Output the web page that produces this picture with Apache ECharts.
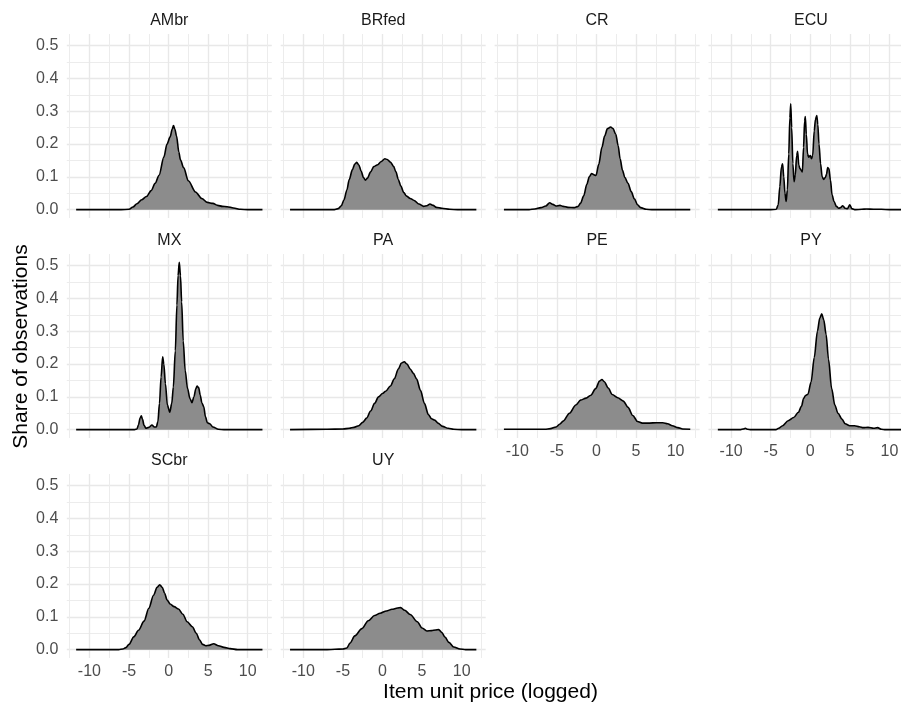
<!DOCTYPE html>
<html>
<head>
<meta charset="utf-8">
<script src="https://cdn.jsdelivr.net/npm/echarts@6/dist/echarts.min.js"></script>
<style>
html,body{margin:0;padding:0;background:#ffffff;}
#chart{width:901px;height:706px;}
</style>
</head>
<body>
<div id="chart"></div>
<script>
// ---- Data ----
const panels = ['AMbr','BRfed','CR','ECU','MX','PA','PE','PY','SCbr','UY'];
const xTitle = 'Item unit price (logged)';
const yTitle = 'Share of observations';

const AMbr = [[-11.68,0],[-6,0],[-5,0.001],[-4.5,0.008],[-4,0.018],[-3.4,0.03],[-2.8,0.04],[-2.2,0.058],[-1.7,0.08],[-1.2,0.105],[-0.6,0.16],[-0.2,0.2],[0.2,0.222],[0.45,0.245],[0.62,0.256],[0.8,0.245],[1.0,0.225],[1.3,0.175],[1.5,0.152],[1.9,0.128],[2.5,0.088],[3.4,0.054],[4.2,0.034],[4.9,0.022],[5.6,0.019],[6.2,0.013],[6.8,0.01],[7.4,0.009],[8.2,0.005],[9.1,0.001],[10,0],[11.86,0]];
const BRfed = [[-11.68,0],[-6.2,0],[-5.6,0.003],[-5.2,0.012],[-4.86,0.03],[-4.5,0.06],[-4.2,0.092],[-3.8,0.122],[-3.5,0.139],[-3.25,0.144],[-3.0,0.137],[-2.7,0.118],[-2.4,0.098],[-2.15,0.09],[-1.9,0.096],[-1.5,0.115],[-1.1,0.131],[-0.6,0.137],[-0.2,0.146],[0.3,0.155],[0.6,0.153],[1.0,0.145],[1.4,0.132],[1.7,0.115],[2.0,0.092],[2.3,0.073],[2.7,0.052],[3.0,0.042],[3.5,0.034],[4.0,0.028],[4.6,0.017],[5.2,0.01],[5.6,0.012],[6.0,0.017],[6.4,0.013],[6.8,0.007],[7.5,0.004],[8.5,0.001],[9.5,0],[11.86,0]];
const CR = [[-11.68,0],[-8.5,0],[-7.8,0.002],[-7.0,0.006],[-6.4,0.011],[-5.9,0.021],[-5.5,0.016],[-5.1,0.011],[-4.6,0.013],[-4.2,0.01],[-3.6,0.007],[-2.8,0.006],[-2.3,0.01],[-2.0,0.02],[-1.6,0.042],[-1.2,0.078],[-0.9,0.1],[-0.6,0.11],[-0.3,0.106],[-0.05,0.104],[0.3,0.138],[0.7,0.19],[1.05,0.225],[1.4,0.247],[1.8,0.252],[2.1,0.247],[2.45,0.23],[2.75,0.195],[3.0,0.155],[3.3,0.12],[3.6,0.098],[4.0,0.08],[4.4,0.055],[4.8,0.033],[5.2,0.015],[5.6,0.006],[6.3,0.001],[7,0],[11.86,0]];
const ECU = [[-11.68,0],[-5,0],[-4.3,0.001],[-4.05,0.015],[-3.85,0.07],[-3.65,0.13],[-3.5,0.14],[-3.35,0.1],[-3.2,0.05],[-3.05,0.025],[-2.9,0.06],[-2.72,0.17],[-2.58,0.28],[-2.47,0.323],[-2.35,0.25],[-2.2,0.14],[-2.05,0.085],[-1.9,0.105],[-1.72,0.165],[-1.6,0.178],[-1.45,0.135],[-1.3,0.125],[-1.15,0.12],[-1.0,0.115],[-0.85,0.19],[-0.72,0.27],[-0.63,0.284],[-0.5,0.23],[-0.35,0.17],[-0.2,0.16],[0,0.165],[0.15,0.155],[0.3,0.165],[0.5,0.24],[0.65,0.275],[0.82,0.287],[0.95,0.26],[1.1,0.2],[1.3,0.14],[1.5,0.1],[1.7,0.092],[1.9,0.098],[2.05,0.108],[2.2,0.128],[2.35,0.125],[2.55,0.09],[2.75,0.045],[3.0,0.025],[3.3,0.01],[3.6,0.004],[3.8,0.006],[4.1,0.012],[4.4,0.004],[4.7,0.003],[5.0,0.015],[5.25,0.003],[5.7,0],[6.5,0.001],[7.1,0.002],[8,0.001],[9,0.001],[10,0],[11.86,0]];
const MX = [[-11.68,0],[-4.3,0],[-4.0,0.002],[-3.8,0.015],[-3.6,0.035],[-3.45,0.042],[-3.3,0.032],[-3.1,0.013],[-2.85,0.004],[-2.5,0.007],[-2.1,0.014],[-1.8,0.008],[-1.55,0.008],[-1.35,0.025],[-1.15,0.08],[-0.95,0.16],[-0.75,0.222],[-0.6,0.2],[-0.4,0.14],[-0.15,0.075],[0.15,0.053],[0.4,0.08],[0.6,0.13],[0.85,0.24],[1.05,0.38],[1.2,0.47],[1.35,0.51],[1.5,0.47],[1.65,0.39],[1.85,0.27],[2.1,0.18],[2.4,0.125],[2.7,0.095],[2.95,0.082],[3.2,0.1],[3.45,0.125],[3.6,0.133],[3.8,0.128],[4.0,0.105],[4.2,0.082],[4.45,0.07],[4.65,0.04],[4.9,0.021],[5.2,0.018],[5.6,0.008],[6.3,0.001],[7,0],[11.86,0]];
const PA = [[-11.68,0],[-7,0.001],[-5,0.002],[-4.2,0.004],[-3.6,0.007],[-3.0,0.012],[-2.5,0.022],[-2.0,0.035],[-1.5,0.057],[-1.0,0.08],[-0.5,0.1],[0,0.11],[0.4,0.117],[1.0,0.133],[1.5,0.155],[2.0,0.185],[2.4,0.203],[2.75,0.207],[3.1,0.2],[3.5,0.185],[3.9,0.172],[4.3,0.155],[4.8,0.12],[5.3,0.08],[5.8,0.046],[6.2,0.033],[6.6,0.029],[7.0,0.02],[7.6,0.01],[8.3,0.004],[9,0.001],[10,0],[11.86,0]];
const PE = [[-11.68,0.001],[-8,0.001],[-6.5,0.001],[-5.8,0.003],[-5.1,0.008],[-4.6,0.017],[-4.2,0.026],[-3.4,0.05],[-2.6,0.075],[-2.0,0.09],[-1.3,0.096],[-0.7,0.105],[-0.1,0.125],[0.4,0.148],[0.7,0.153],[1.0,0.146],[1.5,0.127],[2.0,0.107],[2.7,0.097],[3.4,0.087],[4.0,0.068],[4.6,0.043],[5.2,0.025],[5.8,0.02],[6.7,0.02],[7.6,0.021],[8.4,0.021],[9.0,0.018],[9.6,0.012],[10.3,0.006],[10.9,0.002],[11.86,0.001]];
const PY = [[-11.68,0],[-8.8,0],[-8.5,0.002],[-8.2,0.004],[-7.9,0.001],[-7.5,0],[-4.3,0],[-4.0,0.004],[-3.5,0.012],[-2.8,0.027],[-2.1,0.037],[-1.5,0.053],[-1.1,0.072],[-0.85,0.095],[-0.6,0.104],[-0.3,0.108],[0.1,0.145],[0.5,0.22],[0.9,0.3],[1.2,0.34],[1.45,0.353],[1.7,0.335],[2.0,0.29],[2.3,0.215],[2.7,0.125],[3.1,0.075],[3.5,0.05],[4.0,0.032],[4.4,0.018],[5.0,0.012],[5.6,0.012],[6.2,0.009],[6.7,0.006],[7.3,0.007],[8.0,0.004],[8.5,0.006],[9.0,0.001],[9.5,0],[11.86,0]];
const SCbr = [[-11.68,0],[-6.3,0],[-5.8,0.002],[-5.4,0.006],[-5.0,0.016],[-4.4,0.039],[-3.8,0.059],[-3.1,0.087],[-2.5,0.126],[-1.9,0.166],[-1.45,0.19],[-1.12,0.198],[-0.8,0.19],[-0.5,0.172],[-0.2,0.152],[0.2,0.139],[0.7,0.131],[1.25,0.124],[1.8,0.108],[2.35,0.085],[3.0,0.07],[3.5,0.05],[3.9,0.03],[4.3,0.016],[4.7,0.012],[5.1,0.013],[5.7,0.018],[6.3,0.012],[7.0,0.007],[7.8,0.003],[8.7,0],[11.86,0]];
const UY = [[-11.68,0],[-7,0],[-6,0.001],[-5,0.002],[-4.5,0.005],[-4.1,0.02],[-3.5,0.042],[-2.6,0.064],[-1.8,0.088],[-1.0,0.104],[-0.3,0.111],[0.5,0.118],[1.2,0.123],[1.9,0.127],[2.3,0.128],[2.8,0.12],[3.5,0.107],[4.4,0.085],[5.0,0.066],[5.6,0.057],[6.2,0.058],[6.7,0.06],[7.1,0.061],[7.5,0.052],[7.9,0.038],[8.4,0.022],[9.0,0.008],[9.8,0.002],[10.5,0],[11.86,0]];

const panelData = {AMbr, BRfed, CR, ECU, MX, PA, PE, PY, SCbr, UY};

// ---- Layout / style ----
const xMin = -12.86, xMax = 13.04;
const yMin = -0.0255, yMax = 0.5355;
const FONT = '"Liberation Sans", Arial, Helvetica, sans-serif';
const left0 = 66.8, colStep = 213.9, top0 = 34, rowStep = 220, pw = 205, ph = 184;

const grids = [], xAxes = [], yAxes = [], series = [], graphics = [];

panels.forEach((name, i) => {
  const col = i % 4, row = Math.floor(i / 4);
  const L = left0 + col * colStep, T = top0 + row * rowStep;
  grids.push({left: L, top: T, width: pw, height: ph, containLabel: false, outerBoundsMode: 'none'});
  const showX = i >= 6;
  const showY = col === 0;
  xAxes.push({
    type: 'value', gridIndex: i, min: xMin, max: xMax,
    axisLine: {show: false}, axisTick: {show: false},
    axisLabel: {show: showX, fontSize: 16, color: '#4d4d4d', fontFamily: FONT, margin: 6,
                showMinLabel: false, showMaxLabel: false},
    splitLine: {show: true, showMinLine: false, showMaxLine: false, lineStyle: {color: '#e8e8e8', width: 1.4}},
    minorTick: {show: false, splitNumber: 2},
    minorSplitLine: {show: true, lineStyle: {color: '#ececec', width: 1}}
  });
  yAxes.push({
    type: 'value', gridIndex: i, min: yMin, max: yMax,
    axisLine: {show: false}, axisTick: {show: false},
    axisLabel: {show: showY, fontSize: 16, color: '#4d4d4d', fontFamily: FONT, margin: 8.5,
                showMinLabel: false, showMaxLabel: false,
                formatter: v => v.toFixed(1)},
    splitLine: {show: true, showMinLine: false, showMaxLine: false, lineStyle: {color: '#e8e8e8', width: 1.4}},
    minorTick: {show: false, splitNumber: 2},
    minorSplitLine: {show: true, lineStyle: {color: '#ececec', width: 1}}
  });
  series.push({
    name: name, type: 'line', xAxisIndex: i, yAxisIndex: i,
    data: panelData[name], showSymbol: false, symbol: 'none',
    smooth: 0.3, smoothMonotone: 'x',
    lineStyle: {color: '#000000', width: 1.6},
    areaStyle: {color: '#8c8c8c', opacity: 1},
    silent: true
  });
  graphics.push({
    type: 'text', x: L + pw / 2, y: T - 13.5,
    style: {text: name, fontSize: 16, fontFamily: FONT, fill: '#1a1a1a', align: 'center', verticalAlign: 'middle'}
  });
});

graphics.push({
  type: 'text', x: 490.5, y: 692.5,
  style: {text: xTitle, fontSize: 21, fontFamily: FONT, fill: '#000000', align: 'center', verticalAlign: 'middle'}
});
graphics.push({
  type: 'text', x: 21, y: 346.5, rotation: Math.PI / 2,
  style: {text: yTitle, fontSize: 21, fontFamily: FONT, fill: '#000000', align: 'center', verticalAlign: 'middle'}
});

const chart = echarts.init(document.getElementById('chart'), null, {renderer: 'canvas'});
chart.setOption({
  animation: false,
  backgroundColor: '#ffffff',
  grid: grids,
  xAxis: xAxes,
  yAxis: yAxes,
  series: series,
  graphic: graphics
});
</script>
</body>
</html>
